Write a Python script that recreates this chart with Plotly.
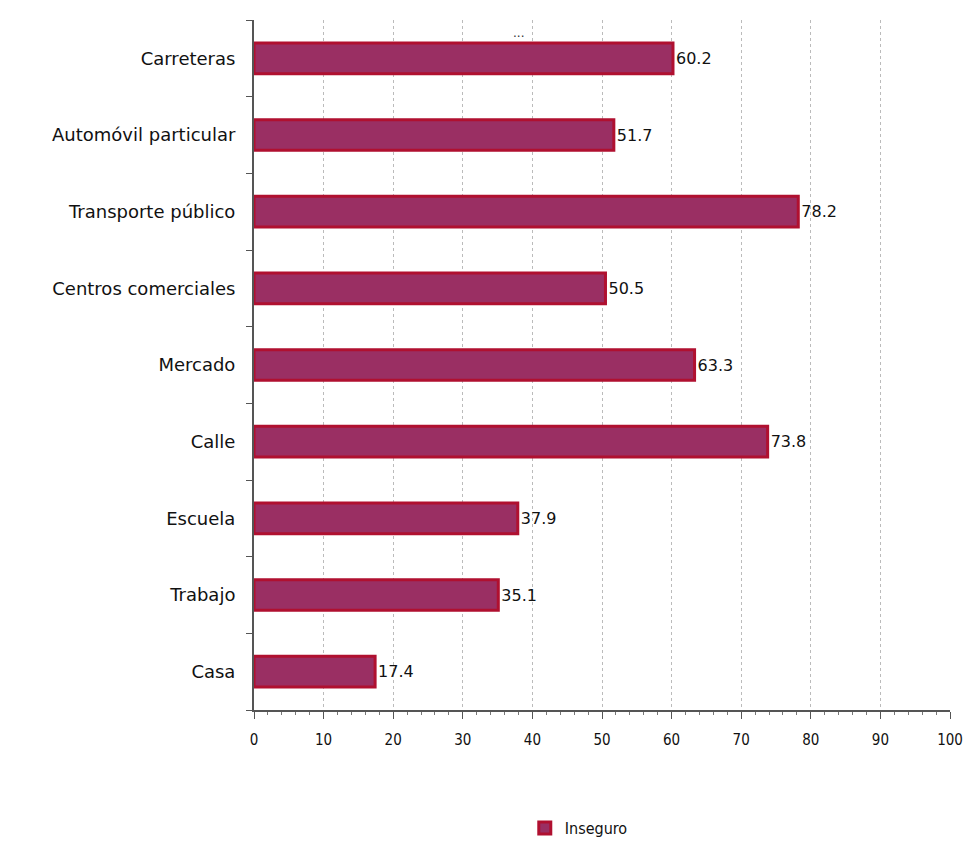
import plotly.graph_objects as go

categories = ["Carreteras", "Automóvil particular", "Transporte público", "Centros comerciales",
              "Mercado", "Calle", "Escuela", "Trabajo", "Casa"]
values = [60.2, 51.7, 78.2, 50.5, 63.3, 73.8, 37.9, 35.1, 17.4]
labels = ["60.2", "51.7", "78.2", "50.5", "63.3", "73.8", "37.9", "35.1", "17.4"]
series_name = "Inseguro"
x_ticks = [0, 10, 20, 30, 40, 50, 60, 70, 80, 90, 100]

font = "DejaVu Sans, sans-serif"
font_c = "DejaVu Sans Condensed, DejaVu Sans, sans-serif"

fig = go.Figure()
fig.add_trace(go.Bar(
    y=categories, x=values, orientation="h", name=series_name,
    marker=dict(color="#9A2F63", line=dict(color="#B01030", width=3)),
    text=labels, textposition="outside", cliponaxis=False,
    textfont=dict(family=font, size=16, color="#111111"),
))

fig.update_layout(
    width=957, height=830,
    margin=dict(l=246, r=15, t=12, b=128),
    paper_bgcolor="white", plot_bgcolor="white",
    bargap=0.6,
    showlegend=True,
    legend=dict(orientation="h", xref="container", x=0.54, xanchor="left",
                yref="container", y=0.012, yanchor="middle", itemwidth=30,
                font=dict(family=font_c, size=16, color="#111111")),
    xaxis=dict(range=[0, 100], tickvals=x_ticks, showgrid=True,
               gridcolor="#BBBBBB", griddash="dot", gridwidth=1,
               showline=True, linecolor="#555555", linewidth=2,
               ticks="outside", ticklen=7, tickcolor="#555555",
               minor=dict(dtick=2, ticks="outside", ticklen=3, tickcolor="#777777"),
               tickfont=dict(family=font_c, size=15, color="#111111"),
               ticklabelstandoff=8, ticklabeloverflow="allow",
               zeroline=False, fixedrange=True, automargin=False),
    yaxis=dict(categoryorder="array", categoryarray=categories[::-1],
               showline=True, linecolor="#555555", linewidth=2,
               ticks="outside", tickson="boundaries", ticklen=6, tickcolor="#555555",
               tickfont=dict(family=font, size=18, color="#111111"),
               showgrid=False, ticklabelstandoff=13, automargin=False),
    font=dict(family=font),
)
fig.add_annotation(text="···", x=0.38, xref="paper", y=0.975, yref="paper", yanchor="middle",
                   showarrow=False, font=dict(size=12, color="#333333"))

fig.write_html("out.html")
